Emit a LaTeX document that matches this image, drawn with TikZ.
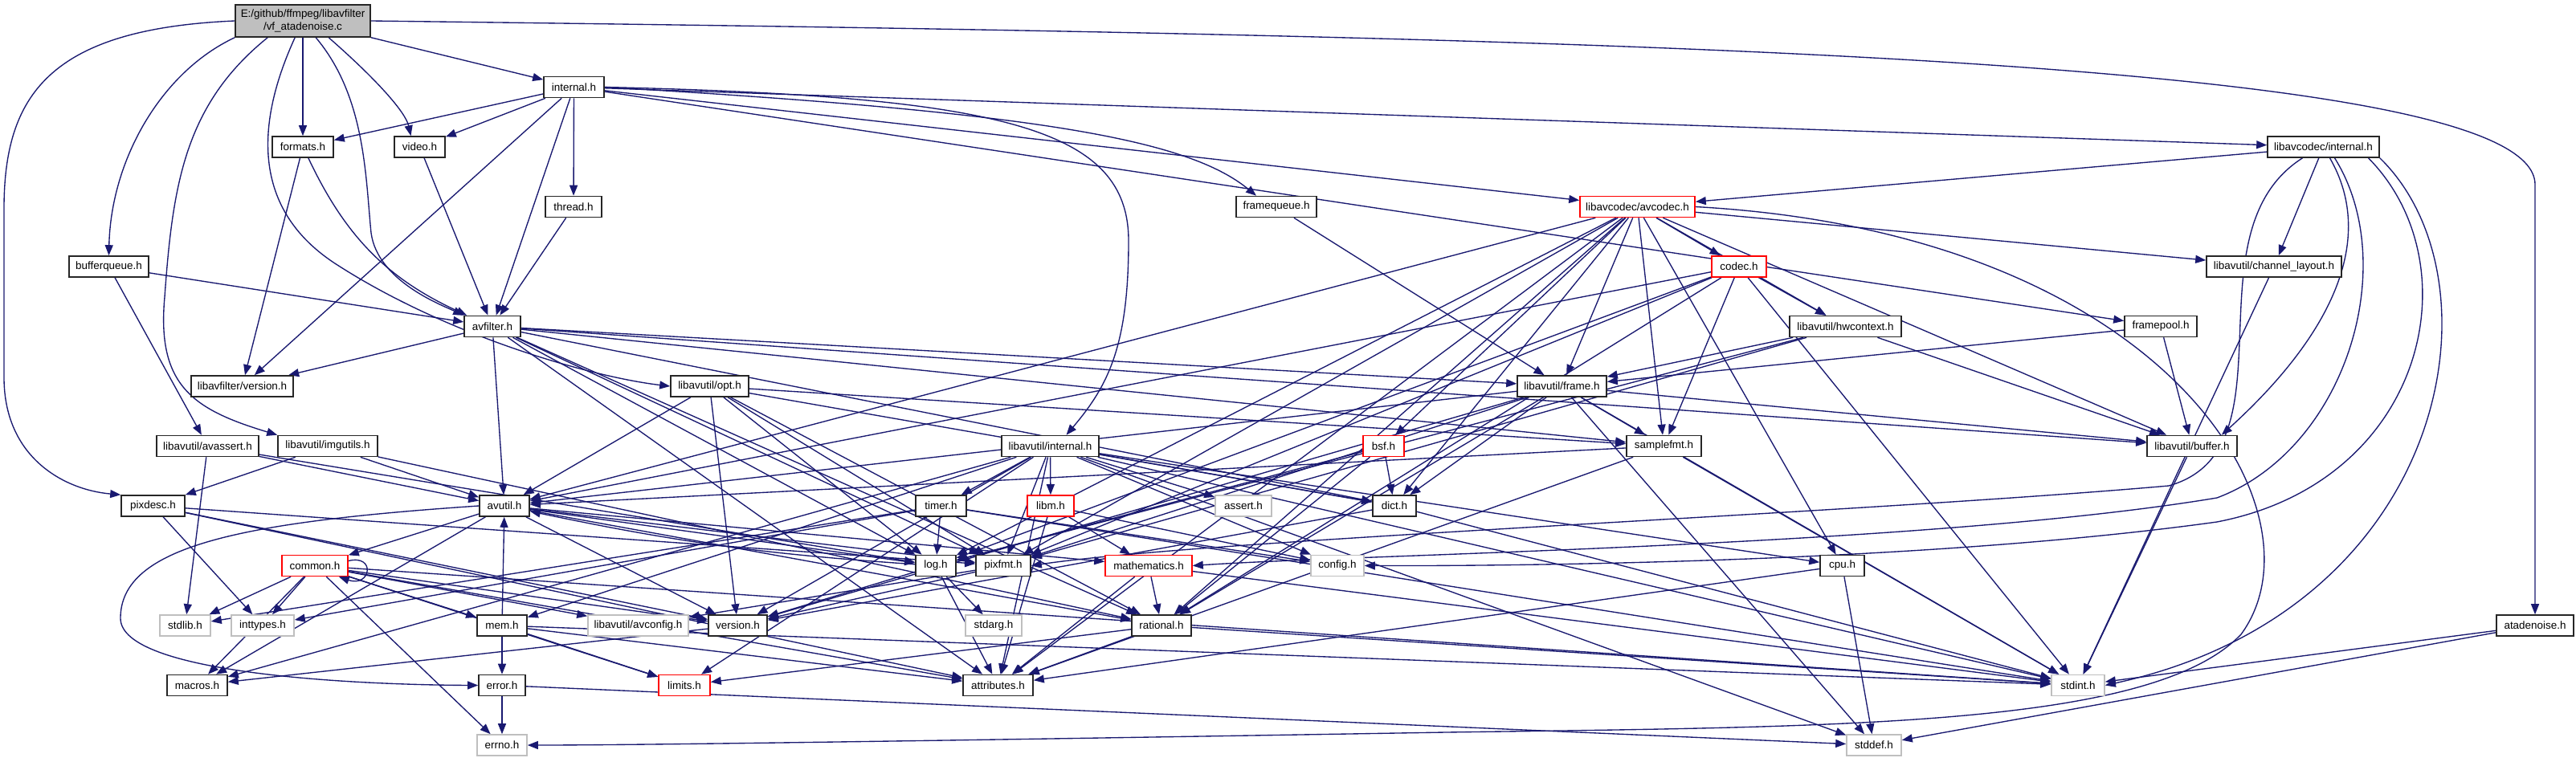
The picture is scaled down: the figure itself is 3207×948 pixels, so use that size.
\documentclass[tikz,border=0pt]{standalone}
\usepackage{fontspec}
\setmainfont{Liberation Sans}
\usetikzlibrary{arrows.meta}
\pgfdeclarelayer{bg}
\pgfsetlayers{bg,main}
\definecolor{edgec}{HTML}{191970}
\definecolor{grayb}{HTML}{BFBFBF}
\definecolor{rootfill}{HTML}{BFBFBF}
\begin{document}
\begin{tikzpicture}[x=1bp,y=-1bp,
  box/.style={draw=black!85, line width=1.6bp, fill=white, rectangle, inner sep=0pt,
    minimum height=26bp, font=\fontsize{13.5}{15.5}\selectfont, text=black},
  redbox/.style={box, draw=red},
  graybox/.style={box, draw=grayb},
  e/.style={draw=edgec, line width=1.35bp, -{Triangle[length=13bp,width=10bp]}},
]
\useasboundingbox (0,0) rectangle (3207,948);
% ---------------- nodes ----------------
\node[box, fill=rootfill, minimum width=168bp, minimum height=40bp, align=center] (root) at (377,26) {E:/github/ffmpeg/libavfilter\\/vf\_atadenoise.c};
\node[box,minimum width=75bp] (internal) at (714.5,108.5) {internal.h};
\node[box,minimum width=76bp] (formats) at (377,183) {formats.h};
\node[box,minimum width=63bp] (video) at (522.5,183) {video.h};
\node[box,minimum width=139bp] (lavcinternal) at (2892.5,183) {libavcodec/internal.h};
\node[box,minimum width=70bp] (thread) at (714,257.5) {thread.h};
\node[box,minimum width=100bp] (framequeue) at (1589,257.5) {framequeue.h};
\node[redbox,minimum width=143bp] (avcodec) at (2038.5,257.5) {libavcodec/avcodec.h};
\node[box,minimum width=99bp] (bufferqueue) at (135.5,332) {bufferqueue.h};
\node[redbox,minimum width=68bp] (codec) at (2165,332) {codec.h};
\node[box,minimum width=168bp] (chlayout) at (2831,332) {libavutil/channel\_layout.h};
\node[box,minimum width=70bp] (avfilter) at (613,406.5) {avfilter.h};
\node[box,minimum width=139bp] (hwcontext) at (2297.5,406.5) {libavutil/hwcontext.h};
\node[box,minimum width=90bp] (framepool) at (2690,406.5) {framepool.h};
\node[box,minimum width=127bp] (lfversion) at (301.5,481) {libavfilter/version.h};
\node[box,minimum width=97bp] (opt) at (883.5,481) {libavutil/opt.h};
\node[box,minimum width=111bp] (frame) at (1944.5,481) {libavutil/frame.h};
\node[box,minimum width=127bp] (avassert) at (258.5,555.5) {libavutil/avassert.h};
\node[box,minimum width=124bp] (imgutils) at (408,555.5) {libavutil/imgutils.h};
\node[box,minimum width=121bp] (lavuinternal) at (1307.5,555.5) {libavutil/internal.h};
\node[redbox,minimum width=51bp] (bsf) at (1722.5,555.5) {bsf.h};
\node[box,minimum width=93bp] (samplefmt) at (2071.5,555.5) {samplefmt.h};
\node[box,minimum width=112bp] (buffer) at (2729,555.5) {libavutil/buffer.h};
\node[box,minimum width=79bp] (pixdesc) at (190.5,630) {pixdesc.h};
\node[box,minimum width=62bp] (avutil) at (628,630) {avutil.h};
\node[box,minimum width=63bp] (timer) at (1171.5,630) {timer.h};
\node[redbox,minimum width=58bp] (libm) at (1308,630) {libm.h};
\node[graybox,minimum width=70bp] (assert) at (1548,630) {assert.h};
\node[box,minimum width=54bp] (dict) at (1736,630) {dict.h};
\node[redbox,minimum width=82bp] (common) at (392,704.5) {common.h};
\node[box,minimum width=50bp] (log) at (1165,704.5) {log.h};
\node[box,minimum width=68bp] (pixfmt) at (1249,704.5) {pixfmt.h};
\node[redbox,minimum width=108bp] (mathematics) at (1430,704.5) {mathematics.h};
\node[graybox,minimum width=66bp] (config) at (1665,704.5) {config.h};
\node[box,minimum width=55bp] (cpu) at (2293.5,704.5) {cpu.h};
\node[graybox,minimum width=63bp] (stdlib) at (230.5,779) {stdlib.h};
\node[graybox,minimum width=78bp] (inttypes) at (327,779) {inttypes.h};
\node[box,minimum width=62bp] (mem) at (625,779) {mem.h};
\node[graybox,minimum width=125bp] (avconfig) at (794.5,779) {libavutil/avconfig.h};
\node[box,minimum width=73bp] (version) at (918.5,779) {version.h};
\node[graybox,minimum width=70bp] (stdarg) at (1237,779) {stdarg.h};
\node[box,minimum width=74bp] (rational) at (1446,779) {rational.h};
\node[box,minimum width=96bp] (atadenoise) at (3156,779) {atadenoise.h};
\node[box,minimum width=75bp] (macros) at (245.5,853.5) {macros.h};
\node[box,minimum width=58bp] (error) at (625,853.5) {error.h};
\node[redbox,minimum width=64bp] (limits) at (852,853.5) {limits.h};
\node[box,minimum width=87bp] (attributes) at (1242.5,853.5) {attributes.h};
\node[graybox,minimum width=66bp] (stdint) at (2587,853.5) {stdint.h};
\node[graybox,minimum width=62bp] (errno) at (625,928) {errno.h};
\node[graybox,minimum width=68bp] (stddef) at (2333,928) {stddef.h};
% ---------------- edges ----------------
\begin{pgfonlayer}{bg}
\fill[white] (0,0) rectangle (3207,948);
% root
\draw[e] (root.west) .. controls (60,36) and (5,120) .. (5,260) -- (5,470) .. controls (5,570) and (80,610) .. (pixdesc.north west);
\draw[e] (root.south west) .. controls (200,90) and (138,200) .. (bufferqueue.north);
\draw[e] ([xshift=41bp]root.south west) .. controls (230,130) and (215,230) .. (205,370) .. controls (195,480) and (240,510) .. (imgutils.north west);
\draw[e] ([xshift=75bp]root.south west) .. controls (320,150) and (310,260) .. (420,330) .. controls (560,420) and (740,470) .. (opt.west);
\draw[e] (root) -- (formats);
\draw[e] ([xshift=101bp]root.south west) .. controls (455,120) and (455,220) .. (462,290) .. controls (470,350) and (550,380) .. (avfilter.north west);
\draw[e] ([xshift=117bp]root.south west) .. controls (470,100) and (505,140) .. ([xshift=-11bp]video.north);
\draw[e] (root) -- (internal);
\draw[e] (root.east) .. controls (2000,45) and (3156,70) .. (3156,230) -- (atadenoise.north);
% libavfilter/internal.h
\draw[e] (internal) -- (formats);
\draw[e] (internal) -- (video);
\draw[e] (internal) -- (lfversion);
\draw[e] (internal) -- (avfilter);
\draw[e] (internal) -- (thread);
\draw[e] (internal.east) .. controls (1300,140) and (1480,175) .. ([xshift=-25bp]framequeue.north);
\draw[e] (internal.east) .. controls (1250,120) and (1405,160) .. (1405,300) .. controls (1405,430) and (1380,480) .. ([xshift=20bp]lavuinternal.north);
\draw[e] (internal) -- (avcodec);
\draw[e] (internal) -- (lavcinternal);
\draw[e] (internal) -- (framepool);
% small ones
\draw[e] (formats) to[bend right=20] (avfilter);
\draw[e] (formats) -- (lfversion);
\draw[e] (video) -- (avfilter);
\draw[e] (thread) -- (avfilter);
\draw[e] (bufferqueue) -- (avfilter);
\draw[e] (bufferqueue) -- (avassert);
\draw[e] (framequeue) -- (frame);
\draw[e] (framepool) -- (frame);
\draw[e] (framepool) -- (buffer);
% avfilter.h
\draw[e] (avfilter) -- (attributes);
\draw[e] (avfilter) -- (avutil);
\draw[e] (avfilter) -- (buffer);
\draw[e] (avfilter) -- (dict);
\draw[e] (avfilter) -- (frame);
\draw[e] (avfilter) -- (log);
\draw[e] (avfilter) -- (samplefmt);
\draw[e] (avfilter) -- (pixfmt);
\draw[e] (avfilter) -- (rational);
\draw[e] (avfilter) -- (lfversion);
% libavcodec/internal.h
\draw[e] (lavcinternal) -- (avcodec);
\draw[e] (lavcinternal) -- (chlayout);
\draw[e] ([xshift=8bp]lavcinternal.south) .. controls (2960,300) and (2900,420) .. ([xshift=-20bp]buffer.north east);
\draw[e] (lavcinternal.south east) .. controls (3120,350) and (3050,760) .. (stdint.east);
\draw[e] ([xshift=-26bp]lavcinternal.south) .. controls (2720,290) and (2860,560) .. (2700,605) .. controls (2300,640) and (1500,672) .. (pixfmt.east);
\draw[e] ([xshift=14bp]lavcinternal.south) .. controls (2990,330) and (2920,560) .. (2760,620) .. controls (2400,680) and (1700,690) .. (mathematics.east);
\draw[e] ([xshift=56bp]lavcinternal.south) .. controls (3080,330) and (3020,600) .. (2760,650) .. controls (2400,700) and (1900,705) .. (config.east);
% libavcodec/avcodec.h
\draw[e] (avcodec.east) .. controls (2700,290) and (2900,640) .. (2790,790) .. controls (2680,905) and (2300,905) .. (1800,912) .. controls (1200,922) and (800,928) .. (errno.east);
\draw[e] (avcodec) -- (samplefmt);
\draw[e] (avcodec) -- (attributes);
\draw[e] (avcodec) -- (avutil);
\draw[e] (avcodec) -- (buffer);
\draw[e] (avcodec) -- (cpu);
\draw[e] (avcodec) -- (chlayout);
\draw[e] (avcodec) -- (dict);
\draw[e] (avcodec) -- (frame);
\draw[e] (avcodec) -- (hwcontext);
\draw[e] (avcodec) -- (log);
\draw[e] (avcodec) -- (pixfmt);
\draw[e] (avcodec) -- (rational);
\draw[e] (avcodec) -- (bsf);
\draw[e] (avcodec) -- (codec);
% codec.h
\draw[e] (codec) -- (stdint);
\draw[e] (codec) -- (avutil);
\draw[e] (codec) -- (hwcontext);
\draw[e] (codec) -- (log);
\draw[e] (codec) -- (pixfmt);
\draw[e] (codec) -- (rational);
\draw[e] (codec) -- (samplefmt);
% hwcontext.h
\draw[e] (hwcontext) -- (buffer);
\draw[e] (hwcontext) -- (frame);
\draw[e] (hwcontext) -- (log);
\draw[e] (hwcontext) -- (pixfmt);
% opt.h
\draw[e] (opt) -- (rational);
\draw[e] (opt) -- (avutil);
\draw[e] (opt) -- (dict);
\draw[e] (opt) -- (log);
\draw[e] (opt) -- (pixfmt);
\draw[e] (opt) -- (samplefmt);
\draw[e] (opt) -- (version);
% frame.h
\draw[e] (frame) -- (stddef);
\draw[e] (frame) -- (stdint);
\draw[e] (frame) -- (avutil);
\draw[e] (frame) -- (buffer);
\draw[e] (frame) -- (dict);
\draw[e] (frame) -- (rational);
\draw[e] (frame) -- (samplefmt);
\draw[e] (frame) -- (pixfmt);
\draw[e] (frame) -- (version);
% avassert.h, imgutils.h
\draw[e] (avassert) -- (stdlib);
\draw[e] (avassert) -- (avutil);
\draw[e] (avassert) -- (log);
\draw[e] (imgutils) -- (avutil);
\draw[e] (imgutils) -- (pixdesc);
\draw[e] (imgutils) -- (rational);
% libavutil/internal.h
\draw[e] (lavuinternal) -- (limits);
\draw[e] (lavuinternal) -- (stdint);
\draw[e] (lavuinternal) -- (stddef);
\draw[e] (lavuinternal) -- (assert);
\draw[e] (lavuinternal) -- (config);
\draw[e] (lavuinternal) -- (attributes);
\draw[e] (lavuinternal) -- (timer);
\draw[e] (lavuinternal) -- (cpu);
\draw[e] (lavuinternal) -- (dict);
\draw[e] (lavuinternal) -- (macros);
\draw[e] (lavuinternal) -- (mem);
\draw[e] (lavuinternal) -- (pixfmt);
\draw[e] (lavuinternal) -- (version);
\draw[e] (lavuinternal) -- (libm);
% bsf.h, samplefmt.h, buffer.h, channel_layout.h, dict.h, cpu.h, atadenoise.h
\draw[e] (bsf) -- (dict);
\draw[e] (bsf) -- (log);
\draw[e] (bsf) -- (rational);
\draw[e] (samplefmt) -- (stdint);
\draw[e] (samplefmt) -- (avutil);
\draw[e] (samplefmt) -- (attributes);
\draw[e] (buffer) -- (stdint);
\draw[e] (chlayout) -- (stdint);
\draw[e] (dict) -- (stdint);
\draw[e] (dict) -- (version);
\draw[e] (cpu) -- (attributes);
\draw[e] (cpu) -- (stddef);
\draw[e] (atadenoise) -- (stddef);
\draw[e] (atadenoise) -- (stdint);
% pixdesc.h
\draw[e] (pixdesc) -- (inttypes);
\draw[e] (pixdesc) -- (attributes);
\draw[e] (pixdesc) -- (pixfmt);
\draw[e] (pixdesc) -- (version);
% avutil.h
\draw[e] (avutil) -- (common);
\draw[e] (avutil.west) .. controls (300,650) and (150,680) .. (150,770) .. controls (150,840) and (450,853) .. (error.west);
\draw[e] (avutil) -- (rational);
\draw[e] (avutil) -- (version);
\draw[e] (avutil) -- (macros);
\draw[e] (avutil) -- (mathematics);
\draw[e] (avutil) -- (log);
\draw[e] (avutil) -- (pixfmt);
% timer.h, libm.h
\draw[e] (timer) -- (config);
\draw[e] (timer) -- (stdlib);
\draw[e] (timer) -- (stdint);
\draw[e] (timer) -- (inttypes);
\draw[e] (timer) -- (log);
\draw[e] (libm) -- (config);
\draw[e] (libm) -- (attributes);
\draw[e] (libm) -- (mathematics);
% common.h
\draw[e] (common) -- (errno);
\draw[e] (common) -- (inttypes);
\draw[e] (common) -- (limits);
\draw[e] (common) -- (stdint);
\draw[e] (common) -- (stdlib);
\draw[e] (common) -- (attributes);
\draw[e] (common) -- (macros);
\draw[e] (common) -- (version);
\draw[e] (common) -- (avconfig);
\draw[e] (common) -- (mem);
\draw[e] ([yshift=6bp]common.east) .. controls (468,690) and (462,732) .. ([xshift=-12bp]common.south east);
% log.h, pixfmt.h, mathematics.h
\draw[e] (log) -- (stdarg);
\draw[e] (log) to[bend left=4] (avutil);
\draw[e] (log) -- (attributes);
\draw[e] (log) -- (version);
\draw[e] (pixfmt) -- (avconfig);
\draw[e] (pixfmt) -- (version);
\draw[e] (mathematics) -- (stdint);
\draw[e] (mathematics) -- (attributes);
\draw[e] (mathematics) -- (rational);
% mem.h
\draw[e] (mem) -- (limits);
\draw[e] (mem) -- (stdint);
\draw[e] (mem) -- (attributes);
\draw[e] (mem) -- (error);
\draw[e] (mem) -- (avutil);
% version.h, rational.h, error.h
\draw[e] (version) -- (macros);
\draw[e] (rational) -- (stdint);
\draw[e] (rational) -- (limits);
\draw[e] (rational) -- (attributes);
\draw[e] (error) -- (errno);
\draw[e] (error) -- (stddef);
\end{pgfonlayer}
\end{tikzpicture}
\end{document}
